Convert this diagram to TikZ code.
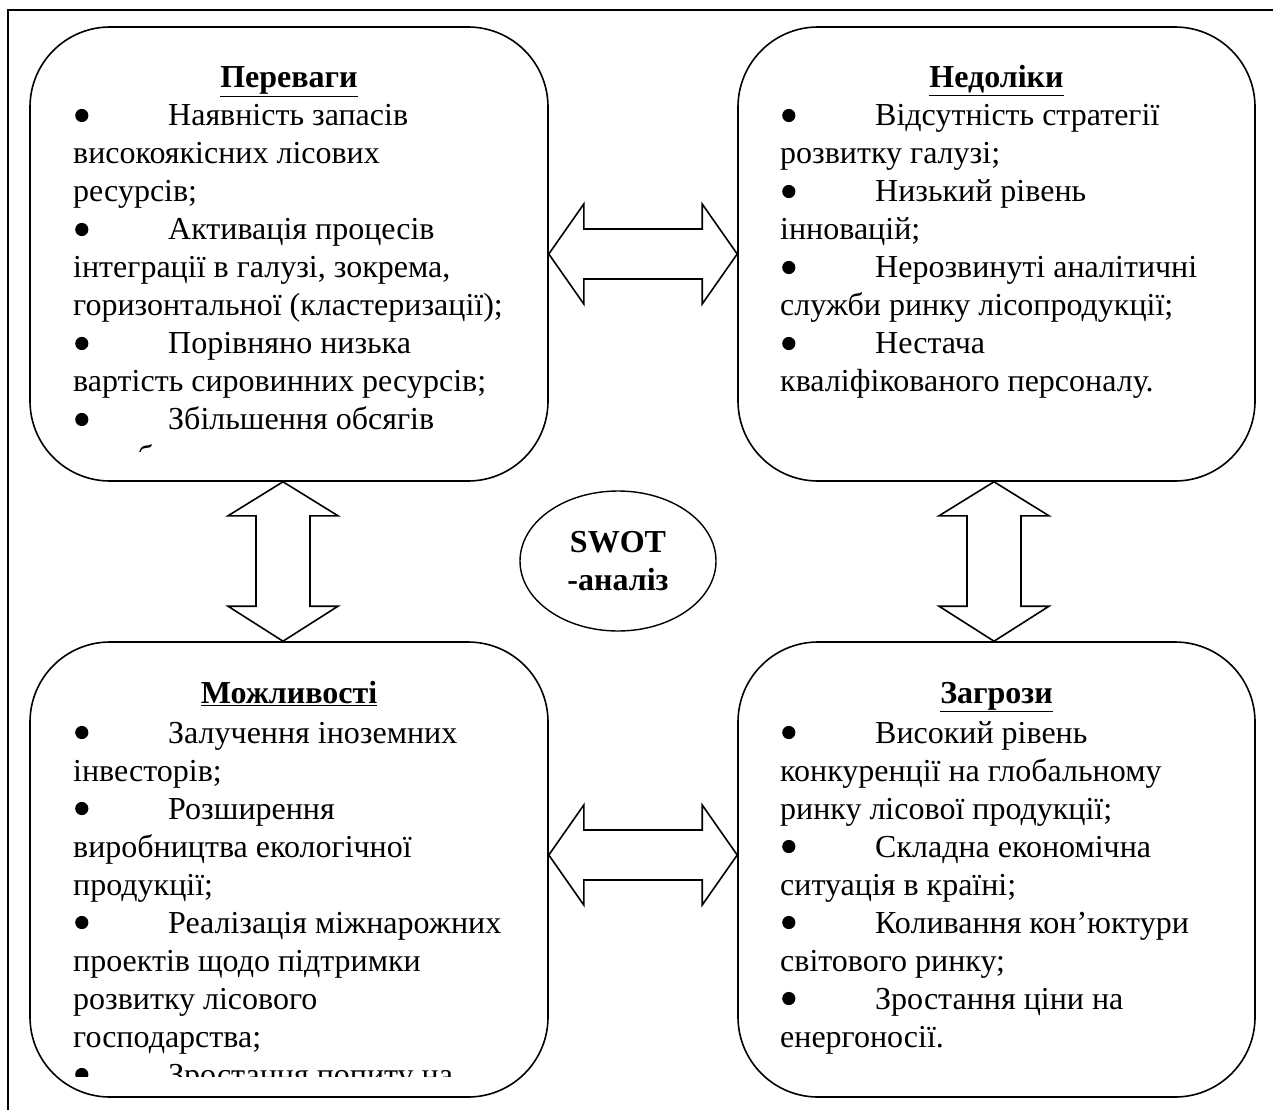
\documentclass[tikz,border=0pt]{standalone}
\usepackage{fontspec}
\setmainfont{Liberation Serif}
\usetikzlibrary{calc,shapes.geometric}
\newcommand\swotbody[1]{\vtop{\baselineskip=38pt\lineskiplimit=-30pt\lineskip=0pt #1}}
\newcommand\bdot{\tikz[baseline=0pt,x=1pt,y=1pt]\fill (0,10.5) circle (6.6pt);}
\newcommand\bitem[1]{\hbox{\makebox[95pt][l]{\hspace{2pt}\bdot}#1}}
\newcommand\bline[1]{\hbox{#1}}
\newcommand\swothead[1]{\underline{\textbf{#1}}}
\tikzset{
  swotbox/.style={draw, line width=1.6pt, rounded corners=80pt, inner sep=0pt},
  bodytext/.style={anchor=base west, inner sep=0pt, font=\fontsize{32}{38}\selectfont},
  headtext/.style={anchor=base, inner sep=0pt, font=\fontsize{32}{38}\selectfont},
  arrowshape/.style={draw, line width=1.6pt, fill=white, line join=miter},
  frameline/.style={line width=2pt}
}
\newcommand\harrow[2]{\draw[arrowshape] (#1) -- ($(#1)+(35,-50)$) -- ($(#1)+(35,-25)$) -- ($(#2)+(-35,-25)$) -- ($(#2)+(-35,-50)$) -- (#2) -- ($(#2)+(-35,50)$) -- ($(#2)+(-35,25)$) -- ($(#1)+(35,25)$) -- ($(#1)+(35,50)$) -- cycle;}
\newcommand\varrow[2]{\draw[arrowshape] (#1) -- ($(#1)+(55,34)$) -- ($(#1)+(27,34)$) -- ($(#2)+(27,-35)$) -- ($(#2)+(55,-35)$) -- (#2) -- ($(#2)+(-55,-35)$) -- ($(#2)+(-27,-35)$) -- ($(#1)+(-27,34)$) -- ($(#1)+(-55,34)$) -- cycle;}
\begin{document}
\begin{tikzpicture}[x=1pt,y=-1pt]
\useasboundingbox (0,0) rectangle (1273,1110);
% outer frame (only top and left edges are inside the picture)
\draw[frameline] (1273,10) -- (8,10) -- (8,1110);

% boxes
\node[swotbox, minimum width=518pt, minimum height=454pt] (tl) at (289,254) {};
\node[swotbox, minimum width=517pt, minimum height=454pt] (tr) at (996.5,254) {};
\node[swotbox, minimum width=518pt, minimum height=455pt] (bl) at (289,869.5) {};
\node[swotbox, minimum width=517pt, minimum height=455pt] (br) at (996.5,869.5) {};

% headers
\node[headtext] (tlh) at (289,88) {\swothead{Переваги}};
\node[headtext] (trh) at (996.5,88) {\swothead{Недоліки}};
\node[headtext] (blh) at (289,703) {\swothead{Можливості}};
\node[headtext] (brh) at (996.5,703) {\swothead{Загрози}};

% bodies
\begin{scope}
\clip (30,27) rectangle (548,451);
\node[bodytext] (tlb) at (73,126) {\swotbody{%
\bitem{Наявність запасів}
\bline{високоякісних лісових}
\bline{ресурсів;}
\bitem{Активація процесів}
\bline{інтеграції в галузі, зокрема,}
\bline{горизонтальної (кластеризації);}
\bitem{Порівняно низька}
\bline{вартість сировинних ресурсів;}
\bitem{Збільшення обсягів}
\bline{виробництва}}};
\end{scope}

\node[bodytext] (trb) at (780,126) {\swotbody{%
\bitem{Відсутність стратегії}
\bline{розвитку галузі;}
\bitem{Низький рівень}
\bline{інновацій;}
\bitem{Нерозвинуті аналітичні}
\bline{служби ринку лісопродукції;}
\bitem{Нестача}
\bline{кваліфікованого персоналу.}}};

\begin{scope}
\clip (30,642) rectangle (548,1076);
\node[bodytext] (blb) at (73,743) {\swotbody{%
\bitem{Залучення іноземних}
\bline{інвесторів;}
\bitem{Розширення}
\bline{виробництва екологічної}
\bline{продукції;}
\bitem{Реалізація міжнарожних}
\bline{проектів щодо підтримки}
\bline{розвитку лісового}
\bline{господарства;}
\bitem{Зростання попиту на}}};
\end{scope}

\node[bodytext] (brb) at (780,743) {\swotbody{%
\bitem{Високий рівень}
\bline{конкуренції на глобальному}
\bline{ринку лісової продукції;}
\bitem{Складна економічна}
\bline{ситуація в країні;}
\bitem{Коливання кон’юктури}
\bline{світового ринку;}
\bitem{Зростання ціни на}
\bline{енергоносії.}}};

% centre ellipse
\node[draw, ellipse, line width=1.4pt, minimum width=196pt, minimum height=140pt, inner sep=0pt,
      align=center, font=\fontsize{32}{38}\selectfont\bfseries] (swot) at (618,561) {SWOT\\-аналіз};

% double arrows between boxes
\coordinate (ya) at (0,254);
\coordinate (yb) at (0,855);
\coordinate (xa) at (283,0);
\coordinate (xb) at (994,0);
\coordinate (a1) at (tl.east |- ya);
\coordinate (a2) at (tr.west |- ya);
\coordinate (b1) at (bl.east |- yb);
\coordinate (b2) at (br.west |- yb);
\coordinate (c1) at (tl.south -| xa);
\coordinate (c2) at (bl.north -| xa);
\coordinate (d1) at (tr.south -| xb);
\coordinate (d2) at (br.north -| xb);
\harrow{a1}{a2}
\harrow{b1}{b2}
\varrow{c1}{c2}
\varrow{d1}{d2}
\end{tikzpicture}
\end{document}
